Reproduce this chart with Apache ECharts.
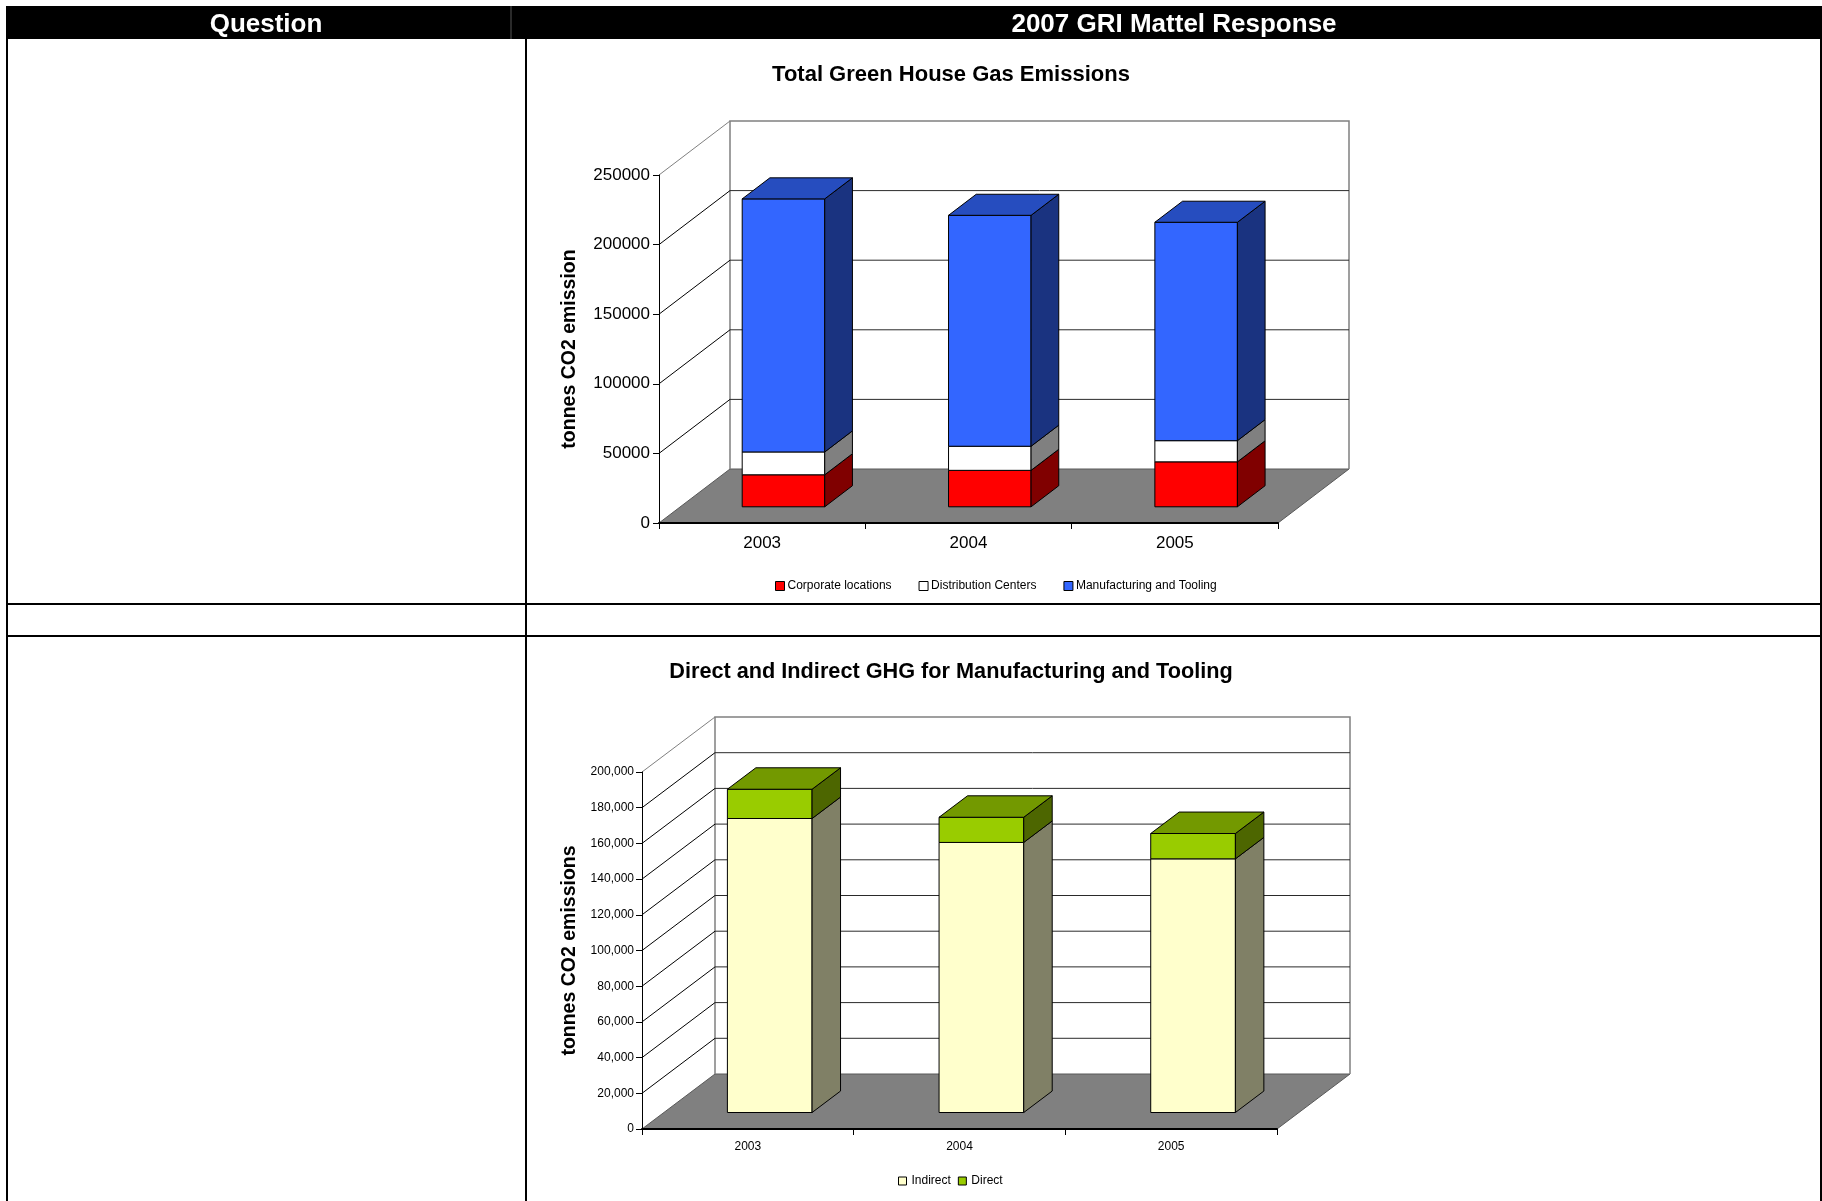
<!DOCTYPE html>
<html>
<head>
<meta charset="utf-8">
<title>2007 GRI Mattel Response</title>
<script src="https://cdn.jsdelivr.net/npm/echarts@6/dist/echarts.min.js"></script>
<style>
  html, body { margin: 0; padding: 0; background: #fff; }
  #chart { width: 1822px; height: 1201px; }
</style>
</head>
<body>
<div id="chart"></div>
<script>
// ---- data ----
const years = ['2003', '2004', '2005'];

// Total GHG emissions (tonnes CO2), stacked by source
const corporateLocations   = [23000, 26200, 32300];
const distributionCenters  = [16400, 17300, 15200];
const manufacturingTooling = [181800, 165900, 156900];
const totalTicks = [0, 50000, 100000, 150000, 200000, 250000];

// Manufacturing and Tooling split into indirect / direct (tonnes CO2)
const indirectGHG = [164700, 151300, 142100];
const directGHG   = [16400, 14100, 14200];
const mfgTicks = [0, 20000, 40000, 60000, 80000, 100000, 120000, 140000, 160000, 180000, 200000];

// ---- styling ----
const FONT = '"Liberation Sans", Arial, Helvetica, sans-serif';
const BAR_WIDTH = 0.4;     // share of a category band
const BAR_FRONT = 0.3;     // depth position of the bar front face (0 = front, 1 = back wall)
const BAR_BACK = 0.69;     // depth position of the bar back face
const depth1 = { dx: 71, dy: -54 };
const depth2 = { dx: 73, dy: -55 };

function shade(hex, k) {
  const n = parseInt(hex.slice(1), 16);
  const r = Math.round(((n >> 16) & 255) * k);
  const g = Math.round(((n >> 8) & 255) * k);
  const b = Math.round((n & 255) * k);
  return 'rgb(' + r + ',' + g + ',' + b + ')';
}

// floor, back wall, side-wall diagonals and wall gridlines
function frameSeries(gridIdx, ticks, depth) {
  const last = ticks.length - 1;
  return {
    type: 'custom', xAxisIndex: gridIdx, yAxisIndex: gridIdx, z: 1, clip: false,
    silent: true, encode: { x: 0, y: 1 },
    data: ticks.map(v => [0, v]),
    renderItem: function (params, api) {
      const cs = params.coordSys;
      const idx = params.dataIndex;
      const y = api.coord([0, api.value(1)])[1];
      const xl = cs.x, xr = cs.x + cs.width;
      const children = [];
      if (idx === 0) {
        children.push({
          type: 'polygon',
          shape: { points: [[xl, y], [xr, y], [xr + depth.dx, y + depth.dy], [xl + depth.dx, y + depth.dy]] },
          style: { fill: '#808080', stroke: '#595959', lineWidth: 1 }
        });
        const yTop = api.coord([0, ticks[last]])[1] + depth.dy;
        const yBot = y + depth.dy;
        children.push({
          type: 'polyline',
          shape: { points: [[xl + depth.dx, yBot], [xl + depth.dx, yTop], [xr + depth.dx, yTop], [xr + depth.dx, yBot]] },
          style: { stroke: '#808080', lineWidth: 1.5, fill: null }
        });
      } else {
        children.push({
          type: 'line',
          shape: { x1: xl, y1: y, x2: xl + depth.dx, y2: y + depth.dy },
          style: { stroke: idx === last ? '#808080' : '#000', lineWidth: 1 }
        });
        if (idx < last) {
          children.push({
            type: 'line',
            shape: { x1: xl + depth.dx, y1: y + depth.dy, x2: xr + depth.dx, y2: y + depth.dy },
            style: { stroke: '#2a2a2a', lineWidth: 1 }
          });
        }
      }
      return { type: 'group', children: children };
    }
  };
}

function drawBar(api, color, depth, isTop) {
  const i = api.value(0), lo = api.value(1), hi = api.value(2);
  const bw = api.size([1, 0])[0] * BAR_WIDTH;
  const pLo = api.coord([i, lo]);
  const pHi = api.coord([i, hi]);
  const ox = depth.dx * BAR_FRONT, oy = depth.dy * BAR_FRONT;
  const ddx = depth.dx * (BAR_BACK - BAR_FRONT), ddy = depth.dy * (BAR_BACK - BAR_FRONT);
  const x0 = pLo[0] - bw / 2 + ox, x1 = x0 + bw;
  const yb = pLo[1] + oy, yt = pHi[1] + oy;
  const edge = { stroke: '#000', lineWidth: 1, lineJoin: 'round' };
  const children = [
    { type: 'rect', shape: { x: x0, y: yt, width: bw, height: yb - yt }, style: Object.assign({ fill: color }, edge) },
    { type: 'polygon', shape: { points: [[x1, yb], [x1 + ddx, yb + ddy], [x1 + ddx, yt + ddy], [x1, yt]] },
      style: Object.assign({ fill: shade(color, 0.5) }, edge) }
  ];
  if (isTop) {
    children.push({ type: 'polygon', shape: { points: [[x0, yt], [x1, yt], [x1 + ddx, yt + ddy], [x0 + ddx, yt + ddy]] },
      style: Object.assign({ fill: shade(color, 0.75) }, edge) });
  }
  return { type: 'group', children: children };
}

function stackSeries(gridIdx, names, values, colors, depth) {
  const base = years.map(() => 0);
  return names.map((name, s) => {
    const data = values[s].map((v, i) => { const lo = base[i]; base[i] += v; return [i, lo, base[i]]; });
    const isTop = s === names.length - 1;
    return {
      type: 'custom', name: name, xAxisIndex: gridIdx, yAxisIndex: gridIdx, z: 3, clip: false,
      encode: { x: 0, y: [1, 2] }, itemStyle: { color: colors[s] }, data: data,
      renderItem: (params, api) => drawBar(api, colors[s], depth, isTop)
    };
  });
}

const totalNames = ['Corporate locations', 'Distribution Centers', 'Manufacturing and Tooling'];
const totalColors = ['#FF0000', '#FFFFFF', '#3366FF'];
const mfgNames = ['Indirect', 'Direct'];
const mfgColors = ['#FFFFCC', '#99CC00'];

function catAxis(gridIdx, size, margin) {
  return {
    type: 'category', gridIndex: gridIdx, data: years, z: 5,
    axisLine: { show: true, lineStyle: { color: '#000', width: 2 } },
    axisTick: { show: true, length: 6, lineStyle: { color: '#000', width: 1 } },
    axisLabel: { color: '#000', fontSize: size, fontFamily: FONT, margin: margin },
    splitLine: { show: false }
  };
}

function valAxis(gridIdx, ticks, name, size, margin, nameGap, fmt) {
  return {
    type: 'value', gridIndex: gridIdx, min: ticks[0], max: ticks[ticks.length - 1],
    interval: ticks[1] - ticks[0], z: 5,
    name: name, nameLocation: 'middle', nameGap: nameGap,
    nameTextStyle: { color: '#000', fontSize: 19.5, fontWeight: 'bold', fontFamily: FONT },
    axisLine: { show: true, lineStyle: { color: '#000', width: 1 } },
    axisTick: { show: true, length: 6, lineStyle: { color: '#000', width: 1 } },
    axisLabel: { color: '#000', fontSize: size, fontFamily: FONT, margin: margin, formatter: fmt },
    splitLine: { show: false }
  };
}

function legendData(names, colors) {
  return names.map((n, i) => ({
    name: n, icon: 'rect',
    itemStyle: { color: colors[i], borderColor: '#000', borderWidth: 1 }
  }));
}

const option = {
  animation: false,
  backgroundColor: '#fff',
  textStyle: { fontFamily: FONT },
  graphic: [
    // table header and rules
    { type: 'rect', shape: { x: 6, y: 6, width: 1816, height: 33 }, style: { fill: '#000' }, silent: true },
    { type: 'line', shape: { x1: 511, y1: 6, x2: 511, y2: 39 }, style: { stroke: '#555', lineWidth: 1 } },
    { type: 'text', style: { text: 'Question', x: 266, y: 25, textAlign: 'center', textVerticalAlign: 'middle',
      font: 'bold 26px ' + FONT, fill: '#fff' } },
    { type: 'text', style: { text: '2007 GRI Mattel Response', x: 1174, y: 25, textAlign: 'center', textVerticalAlign: 'middle',
      font: 'bold 26px ' + FONT, fill: '#fff' } },
    { type: 'line', shape: { x1: 7, y1: 39, x2: 7, y2: 1201 }, style: { stroke: '#000', lineWidth: 2 } },
    { type: 'line', shape: { x1: 526, y1: 39, x2: 526, y2: 1201 }, style: { stroke: '#000', lineWidth: 2 } },
    { type: 'line', shape: { x1: 1821, y1: 39, x2: 1821, y2: 1201 }, style: { stroke: '#000', lineWidth: 2 } },
    { type: 'line', shape: { x1: 6, y1: 604, x2: 1822, y2: 604 }, style: { stroke: '#000', lineWidth: 2 } },
    { type: 'line', shape: { x1: 6, y1: 636, x2: 1822, y2: 636 }, style: { stroke: '#000', lineWidth: 2 } },
    // chart titles
    { type: 'text', style: { text: 'Total Green House Gas Emissions', x: 951, y: 75, textAlign: 'center',
      textVerticalAlign: 'middle', font: 'bold 22px ' + FONT, fill: '#000' } },
    { type: 'text', style: { text: 'Direct and Indirect GHG for Manufacturing and Tooling', x: 951, y: 672,
      textAlign: 'center', textVerticalAlign: 'middle', font: 'bold 21.7px ' + FONT, fill: '#000' } }
  ],
  grid: [
    { left: 659, top: 175, width: 619, height: 348, containLabel: false, outerBoundsMode: 'none' },
    { left: 642, top: 772, width: 635, height: 357, containLabel: false, outerBoundsMode: 'none' }
  ],
  xAxis: [catAxis(0, 17, 12), catAxis(1, 12, 12)],
  yAxis: [
    valAxis(0, totalTicks, 'tonnes CO2 emission', 17, 9, 79, v => String(v)),
    valAxis(1, mfgTicks, 'tonnes CO2 emissions', 12, 8, 62, v => v.toLocaleString('en-US'))
  ],
  legend: [
    { data: legendData(totalNames, totalColors), left: 770, top: 575, itemWidth: 9, itemHeight: 9, itemGap: 27,
      textStyle: { color: '#000', fontSize: 12, fontFamily: FONT, padding: [0, 0, 0, -2] }, selectedMode: false },
    { data: legendData(mfgNames, mfgColors), left: 893, top: 1170, itemWidth: 8, itemHeight: 8, itemGap: 7,
      textStyle: { color: '#000', fontSize: 12, fontFamily: FONT }, selectedMode: false }
  ],
  series: [
    frameSeries(0, totalTicks, depth1),
    frameSeries(1, mfgTicks, depth2)
  ].concat(
    stackSeries(0, totalNames, [corporateLocations, distributionCenters, manufacturingTooling], totalColors, depth1),
    stackSeries(1, mfgNames, [indirectGHG, directGHG], mfgColors, depth2)
  )
};

const chart = echarts.init(document.getElementById('chart'), null, { renderer: 'canvas' });
chart.setOption(option);
</script>
</body>
</html>
